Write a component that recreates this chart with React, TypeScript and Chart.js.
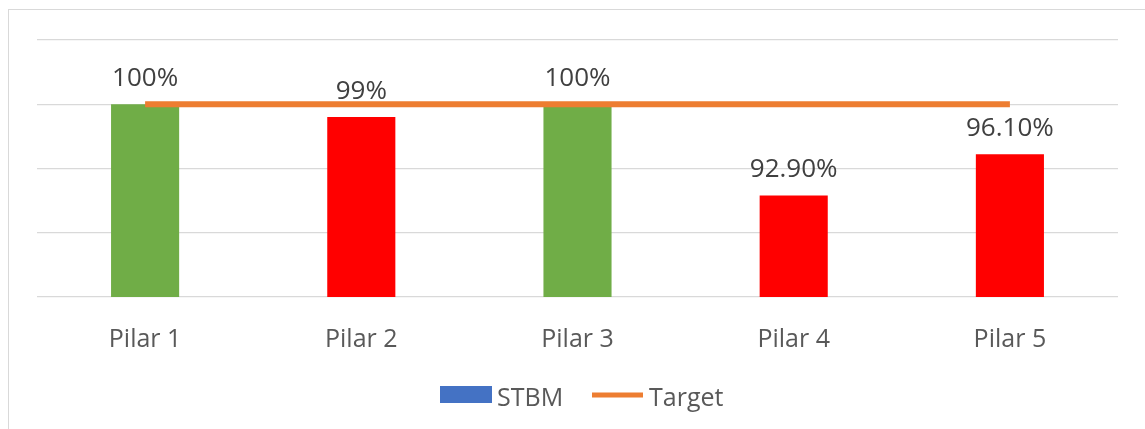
import React, { useEffect, useRef } from "react";
import { Chart, registerables } from "chart.js";

Chart.register(...registerables);

const categories = ["Pilar 1", "Pilar 2", "Pilar 3", "Pilar 4", "Pilar 5"];
const stbmValues = [100, 99, 100, 92.9, 96.1];
const valueLabels = ["100%", "99%", "100%", "92.90%", "96.10%"];
const targetValues = [100, 100, 100, 100, 100];
const barColors = ["#70AD47", "#FF0000", "#70AD47", "#FF0000", "#FF0000"];
const seriesNames = ["STBM", "Target"];
const yMin = 85;
const yMax = 105;
const yStep = 5;

const FONT = "'Open Sans', 'Noto Sans', sans-serif";

const labelsPlugin = {
  id: "valueLabels",
  afterDatasetsDraw(chart: any) {
    const ctx = chart.ctx;
    const meta = chart.getDatasetMeta(1);
    ctx.save();
    ctx.font = `26px ${FONT}`;
    ctx.fillStyle = "#404040";
    ctx.textAlign = "center";
    ctx.textBaseline = "alphabetic";
    meta.data.forEach((el: any, i: number) => {
      ctx.fillText(valueLabels[i], el.x, el.y - 18);
    });
    ctx.restore();
  },
};

const legendPlugin = {
  id: "customLegend",
  afterDraw(chart: any) {
    const ctx = chart.ctx;
    ctx.save();
    ctx.font = `25px ${FONT}`;
    ctx.textBaseline = "alphabetic";
    ctx.textAlign = "left";
    ctx.fillStyle = "#4472C4";
    ctx.fillRect(440, 386, 52, 17);
    ctx.fillStyle = "#595959";
    ctx.fillText(seriesNames[0], 497, 406);
    ctx.strokeStyle = "#ED7D31";
    ctx.lineWidth = 5;
    ctx.beginPath();
    ctx.moveTo(592, 395);
    ctx.lineTo(643, 395);
    ctx.stroke();
    ctx.fillText(seriesNames[1], 649, 406);
    ctx.restore();
  },
};

export default function App() {
  const ref = useRef<HTMLCanvasElement>(null);
  useEffect(() => {
    if (!ref.current) return;
    const chart = new Chart(ref.current, {
      type: "bar",
      data: {
        labels: categories,
        datasets: [
          {
            type: "line",
            label: seriesNames[1],
            data: targetValues,
            borderColor: "#ED7D31",
            backgroundColor: "#ED7D31",
            borderWidth: 6,
            pointRadius: 0,
            order: 0,
          } as any,
          {
            type: "bar",
            label: seriesNames[0],
            data: stbmValues,
            backgroundColor: barColors,
            barPercentage: 1,
            categoryPercentage: 0.315,
            order: 1,
          } as any,
        ],
      },
      options: {
        animation: false,
        responsive: false,
        maintainAspectRatio: false,
        layout: { padding: { left: 37, right: 27, top: 40, bottom: 0 } },
        plugins: {
          legend: { display: false },
          tooltip: { enabled: false },
        },
        scales: {
          x: {
            grid: { display: false },
            border: { display: false },
            ticks: {
              color: "#595959",
              font: { family: FONT, size: 25 },
              padding: 20,
              maxRotation: 0,
            },
            afterFit(scale: any) {
              scale.height = 132;
            },
          },
          y: {
            min: yMin,
            max: yMax,
            border: { display: false },
            grid: { color: "#D9D9D9", lineWidth: 1.3, drawTicks: false },
            ticks: { display: false, stepSize: yStep },
            afterFit(scale: any) {
              scale.width = 0;
            },
          },
        },
      },
      plugins: [labelsPlugin, legendPlugin],
    });
    return () => chart.destroy();
  }, []);

  return (
    <div style={{ position: "fixed", left: 0, top: 0, width: 1145, height: 429, background: "#fff" }}>
      <div
        style={{
          position: "absolute",
          left: 8,
          top: 9,
          width: 1200,
          height: 500,
          border: "1.5px solid #D9D9D9",
          boxSizing: "border-box",
        }}
      />
      <canvas
        ref={ref}
        width={1145}
        height={429}
        style={{ position: "absolute", left: 0, top: 0, width: 1145, height: 429 }}
      />
    </div>
  );
}
